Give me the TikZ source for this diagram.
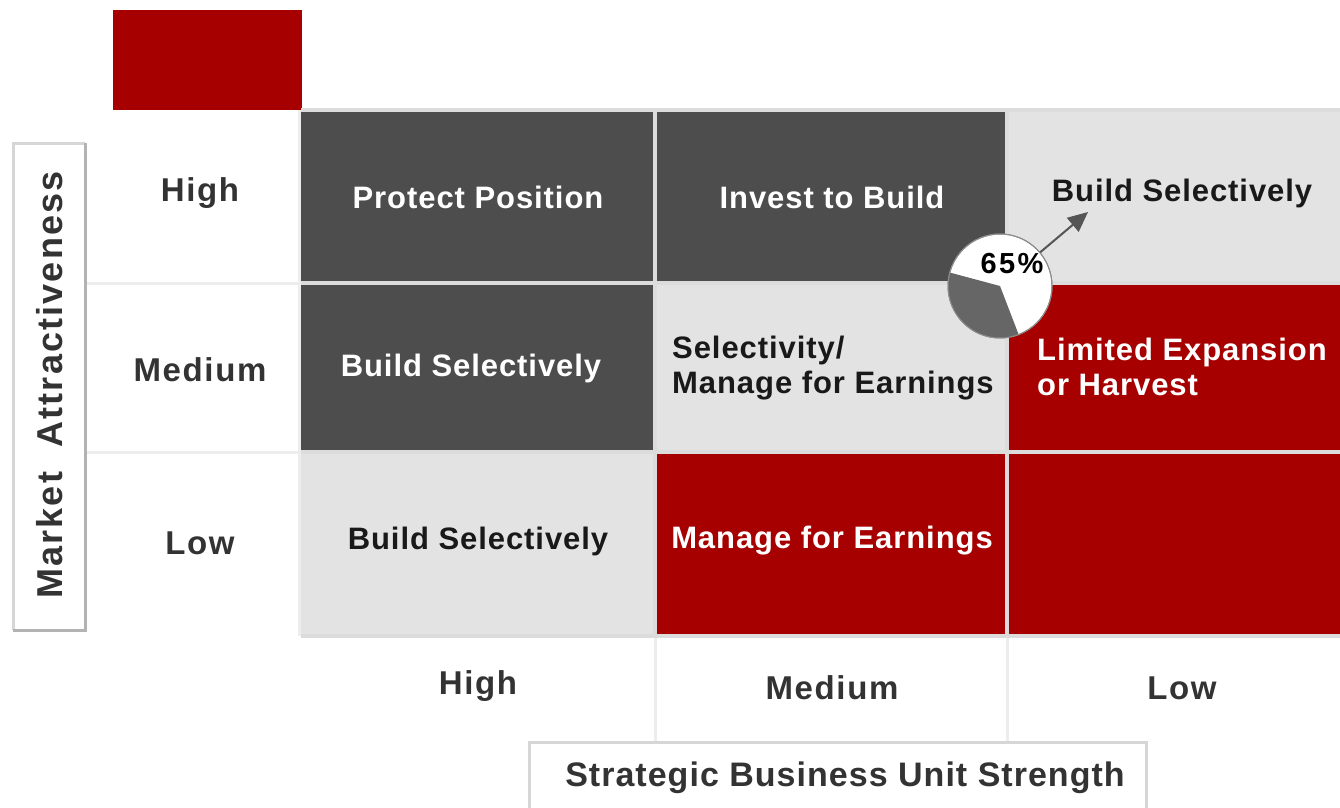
\documentclass[tikz,border=0pt]{standalone}
\usepackage{fontspec}
\setmainfont{Liberation Sans}
\usetikzlibrary{arrows.meta}
\definecolor{darkcell}{HTML}{4D4D4D}
\definecolor{lightcell}{HTML}{E3E3E3}
\definecolor{redcell}{HTML}{A60000}
\definecolor{sepline}{HTML}{DCDCDC}
\definecolor{labeltext}{HTML}{333333}
\definecolor{boxlight}{HTML}{D6D6D6}
\definecolor{boxdark}{HTML}{B3B3B3}
\definecolor{piegray}{HTML}{666666}
\definecolor{arrowgray}{HTML}{555555}
\tikzset{
  cellfnt/.style={font=\fontsize{31}{35}\selectfont\bfseries\addfontfeature{LetterSpace=3}},
  celltext/.style={cellfnt, inner sep=0pt, align=center},
  celltextleft/.style={cellfnt, inner sep=0pt, align=left, anchor=west},
  darktxt/.style={text=white},
  lighttxt/.style={text=black!90},
  axislabel/.style={font=\fontsize{33}{38}\selectfont\bfseries\addfontfeature{LetterSpace=5}, text=labeltext, inner sep=0pt},
  axistitle/.style={font=\fontsize{34}{38}\selectfont\bfseries\addfontfeature{LetterSpace=3}, text=labeltext, inner sep=0pt},
  sidetitle/.style={font=\fontsize{36}{40}\selectfont\bfseries\addfontfeature{LetterSpace=6}, text=labeltext, inner sep=0pt},
  sep/.style={draw=sepline, line width=4pt},
  faint/.style={draw=black!7, line width=3pt},
}
\begin{document}
\begin{tikzpicture}[x=1pt,y=-1pt]
\useasboundingbox (0,0) rectangle (1340,807);
\fill[white] (0,0) rectangle (1340,807);

% top-left red block
\fill[redcell] (113,10) rectangle (302,110);

% cells
\fill[darkcell]  (301,110) rectangle (655,283);
\fill[darkcell]  (655,110) rectangle (1007,283);
\fill[lightcell] (1007,110) rectangle (1340,283);
\fill[darkcell]  (301,283) rectangle (655,452);
\fill[lightcell] (655,283) rectangle (1007,452);
\fill[redcell]   (1007,283) rectangle (1340,452);
\fill[lightcell] (301,452) rectangle (655,636);
\fill[redcell]   (655,452) rectangle (1007,636);
\fill[redcell]   (1007,452) rectangle (1340,636);

% grid separators
\draw[sep] (301,110) -- (1340,110);
\draw[sep] (655,110) -- (655,636);
\draw[sep] (1007,110) -- (1007,636);
\draw[sep] (301,283) -- (1340,283);
\draw[sep] (301,452) -- (1340,452);
\draw[sep] (301,636) -- (1340,636);
\draw[faint] (299,110) -- (299,636);

% row label column lines
\draw[faint] (86,283) -- (299,283);
\draw[faint] (86,452) -- (299,452);

% column label lines
\draw[faint] (655,638) -- (655,741);
\draw[faint] (1007,638) -- (1007,741);

% left axis box
\draw[boxlight, line width=3pt] (13,630) -- (13,143) -- (85,143);
\draw[boxdark, line width=3pt] (85,143) -- (85,630) -- (13,630);

% bottom axis box
\draw[boxlight, line width=3pt] (529,810) -- (529,742) -- (1146,742) -- (1146,810);

% cell texts
\node[celltext, darktxt] (pp) at (478,197) {Protect Position};
\node[celltext, darktxt] (ib) at (832,197) {Invest to Build};
\node[celltext, lighttxt] (bs1) at (1182,193) {Build Selectively};
\node[celltext, darktxt] (bs2) at (471,368) {Build Selectively};
\node[celltextleft, lighttxt] (sel) at (672,368) {Selectivity/\\Manage for Earnings};
\node[celltextleft, darktxt] (lim) at (1037,367) {Limited Expansion\\or Harvest};
\node[celltext, lighttxt] (bs3) at (478,541) {Build Selectively};
\node[celltext, darktxt] (mfe) at (832,541) {Manage for Earnings};

% row labels
\node[axislabel] (rh) at (200,193) {High};
\node[axislabel] (rm) at (200,370) {Medium};
\node[axislabel] (rl) at (200,543) {Low};

% column labels
\node[axislabel] (ch) at (478,686) {High};
\node[axislabel] (cm) at (832,688) {Medium};
\node[axislabel] (cl) at (1182,688) {Low};

% axis titles
\node[sidetitle, rotate=90] (ma) at (50,385) {Market\ \ Attractiveness};
\node[axistitle] (sbu) at (845,778) {Strategic Business Unit Strength};

% pie
\node[circle, draw=black!45, line width=1pt, fill=white, minimum size=104pt, inner sep=0pt] (pie) at (1000,286) {};
\fill[piegray] (1000,286) -- ++(69:52) arc[start angle=69, end angle=195, radius=52] -- cycle;
\draw[black!45, line width=1pt] (1000,286) circle[radius=52];
\node[font=\fontsize{29}{30}\selectfont\bfseries\addfontfeature{LetterSpace=8}, inner sep=0pt] (pct) at (1012,264) {65\%};

% arrow
\coordinate (tip) at (1088,212);
\draw[arrowgray, line width=2pt, -{Triangle[length=20pt,width=18pt]}] (pie.40) -- (tip);
\end{tikzpicture}
\end{document}
